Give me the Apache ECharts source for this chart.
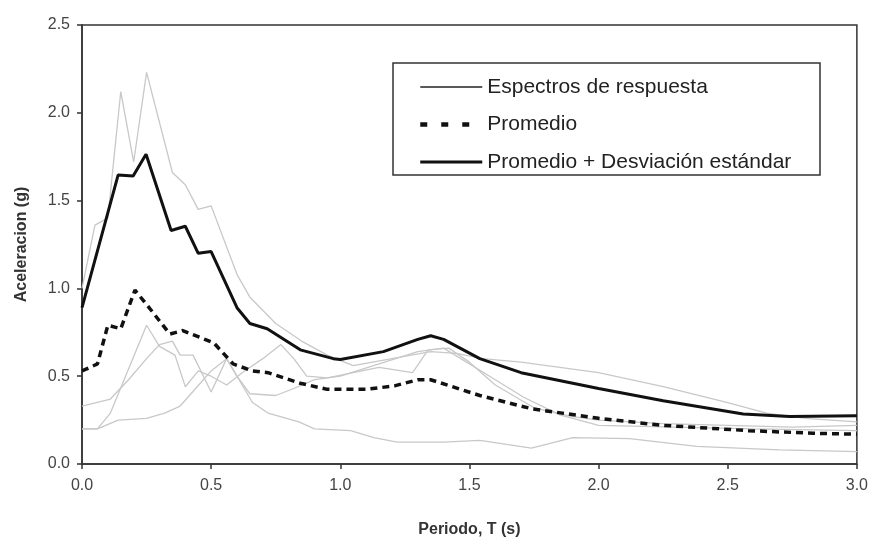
<!DOCTYPE html>
<html>
<head>
<meta charset="utf-8">
<script src="https://cdn.jsdelivr.net/npm/echarts@6/dist/echarts.min.js"></script>
<style>html,body{margin:0;padding:0;background:#fff}#c{width:871px;height:543px}</style>
</head>
<body>
<div id="c"></div>
<script>
// Data [period T (s), acceleration (g)]
const espectro1 = [[0,1.0],[0.05,1.36],[0.1,1.40],[0.15,2.12],[0.2,1.72],[0.25,2.23],[0.35,1.66],[0.4,1.59],[0.45,1.45],[0.5,1.47],[0.6,1.08],[0.65,0.95],[0.75,0.80],[0.85,0.70],[0.95,0.62],[1.05,0.56],[1.2,0.60],[1.35,0.64],[1.45,0.63],[1.55,0.60],[1.7,0.58],[2.0,0.52],[2.25,0.44],[2.5,0.35],[2.65,0.29],[2.8,0.26],[3.0,0.24]];
const espectro2 = [[0,0.2],[0.06,0.2],[0.11,0.29],[0.25,0.79],[0.3,0.67],[0.36,0.62],[0.4,0.44],[0.45,0.53],[0.5,0.5],[0.56,0.45],[0.62,0.52],[0.7,0.6],[0.77,0.68],[0.82,0.6],[0.87,0.5],[0.95,0.49],[1.05,0.52],[1.15,0.55],[1.28,0.52],[1.34,0.65],[1.42,0.66],[1.5,0.58],[1.6,0.45],[1.75,0.32],[1.9,0.27],[2.0,0.25],[2.25,0.23],[2.5,0.22],[2.75,0.21],[3.0,0.22]];
const espectro3 = [[0,0.33],[0.11,0.37],[0.18,0.48],[0.25,0.6],[0.3,0.68],[0.35,0.7],[0.38,0.62],[0.43,0.62],[0.5,0.41],[0.56,0.6],[0.6,0.5],[0.65,0.4],[0.75,0.39],[0.82,0.43],[0.9,0.48],[1.0,0.5],[1.15,0.57],[1.3,0.64],[1.4,0.66],[1.5,0.57],[1.6,0.48],[1.71,0.38],[1.85,0.28],[2.0,0.22],[2.3,0.21],[2.6,0.2],[3.0,0.19]];
const espectro4 = [[0,0.2],[0.06,0.2],[0.14,0.25],[0.25,0.26],[0.32,0.29],[0.38,0.33],[0.44,0.43],[0.5,0.53],[0.56,0.6],[0.62,0.45],[0.66,0.35],[0.72,0.29],[0.84,0.24],[0.9,0.2],[1.04,0.19],[1.13,0.15],[1.22,0.125],[1.4,0.125],[1.54,0.135],[1.65,0.11],[1.74,0.09],[1.9,0.15],[2.12,0.145],[2.38,0.1],[2.7,0.08],[3.0,0.07]];
const promedio = [[0,0.53],[0.06,0.57],[0.1,0.79],[0.15,0.77],[0.205,0.99],[0.26,0.89],[0.34,0.74],[0.39,0.76],[0.51,0.69],[0.585,0.57],[0.66,0.53],[0.72,0.52],[0.845,0.46],[0.95,0.425],[1.1,0.425],[1.21,0.445],[1.3,0.48],[1.35,0.48],[1.54,0.39],[1.74,0.315],[2.0,0.26],[2.25,0.22],[2.58,0.19],[2.83,0.175],[3.0,0.17]];
const promedioDesv = [[0,0.89],[0.14,1.646],[0.198,1.64],[0.248,1.764],[0.345,1.33],[0.4,1.354],[0.45,1.2],[0.5,1.21],[0.6,0.89],[0.65,0.80],[0.717,0.77],[0.845,0.65],[0.973,0.60],[1.0,0.595],[1.167,0.64],[1.3,0.71],[1.35,0.73],[1.4,0.71],[1.54,0.60],[1.7,0.52],[2.0,0.43],[2.25,0.36],[2.56,0.285],[2.74,0.27],[3.0,0.275]];
const espectros = [espectro1, espectro2, espectro3, espectro4];
const nombreEsp = 'Espectros de respuesta';
const nombreProm = 'Promedio';
const nombreDesv = 'Promedio + Desviación estándar';

const chart = echarts.init(document.getElementById('c'));
const font = 'Liberation Sans, Arial, sans-serif';
const series = espectros.map(d => ({
  name: nombreEsp, type: 'line', data: d, symbol: 'none', silent: true,
  lineStyle: { color: '#c8c8c8', width: 1.3 }, itemStyle: { color: '#c8c8c8' }, z: 2
}));
series.push({
  name: nombreProm, type: 'line', data: promedio, symbol: 'none', silent: true,
  lineStyle: { color: '#111', width: 3.5, type: [7, 5] }, itemStyle: { color: '#111' }, z: 3
});
series.push({
  name: nombreDesv, type: 'line', data: promedioDesv, symbol: 'none', silent: true,
  lineStyle: { color: '#111', width: 3 }, itemStyle: { color: '#111' }, z: 4
});
const hidden = { color: 'transparent', borderWidth: 0, opacity: 0 };
chart.setOption({
  animation: false,
  backgroundColor: '#fff',
  grid: { left: 82, right: 14, top: 25, bottom: 74, show: true, borderColor: '#333', borderWidth: 1.5 },
  graphic: [{ type: 'rect', shape: { x: 393, y: 63, width: 427, height: 112 },
    style: { fill: '#fff', stroke: '#333', lineWidth: 1.5 }, z: 10 }],
  legend: {
    orient: 'vertical', left: 413, top: 71, z: 11,
    itemWidth: 62, itemHeight: 22, itemGap: 15.5,
    textStyle: { fontFamily: font, fontSize: 21, color: '#222', lineHeight: 22 },
    itemStyle: hidden,
    data: [
      { name: nombreEsp, itemStyle: hidden, lineStyle: { color: '#222', width: 1.6, type: 'solid', opacity: 1 } },
      { name: nombreProm, itemStyle: hidden, lineStyle: { color: '#111', width: 4.5, type: [7, 14] } },
      { name: nombreDesv, itemStyle: hidden, lineStyle: { color: '#111', width: 3, type: 'solid' } }
    ]
  },
  xAxis: {
    type: 'value', min: 0, max: 3, interval: 0.5,
    name: 'Periodo, T (s)', nameLocation: 'middle', nameGap: 58,
    nameTextStyle: { fontFamily: font, fontSize: 16, fontWeight: 'bold', color: '#333' },
    axisLine: { lineStyle: { color: '#333', width: 1.5 } },
    axisTick: { show: true, length: 5, lineStyle: { color: '#333', width: 1.5 } },
    axisLabel: { fontFamily: font, fontSize: 16, color: '#444', margin: 14, formatter: v => v.toFixed(1) },
    splitLine: { show: false }
  },
  yAxis: {
    type: 'value', min: 0, max: 2.5, interval: 0.5,
    name: 'Aceleracion (g)', nameLocation: 'middle', nameGap: 52,
    nameTextStyle: { fontFamily: font, fontSize: 16, fontWeight: 'bold', color: '#333' },
    axisLine: { show: true, lineStyle: { color: '#333', width: 1.5 } },
    axisTick: { show: true, length: 5, lineStyle: { color: '#333', width: 1.5 } },
    axisLabel: { fontFamily: font, fontSize: 16, color: '#444', margin: 12, formatter: v => v.toFixed(1) },
    splitLine: { show: false }
  },
  series: series
});
</script>
</body>
</html>
